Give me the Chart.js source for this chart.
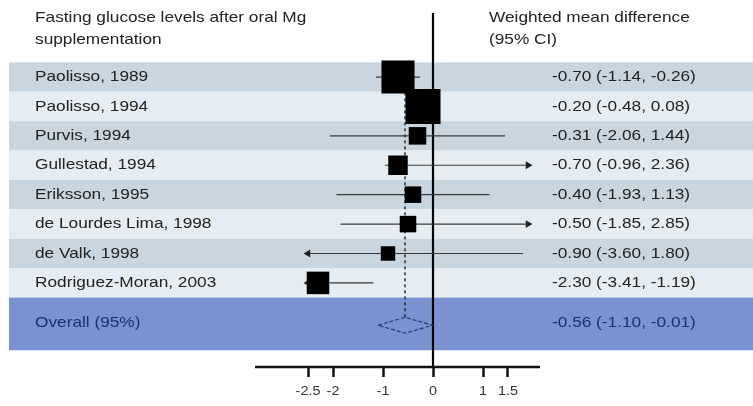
<!DOCTYPE html>
<html>
<head>
<meta charset="utf-8">
<script src="https://cdn.jsdelivr.net/npm/chart.js@4"></script>
<style>
  html, body { margin: 0; padding: 0; background: #ffffff; }
  #wrap { width: 753px; height: 406px; }
</style>
</head>
<body>
<div id="wrap"><canvas id="forest" width="753" height="406"></canvas></div>
<script>
// Meta-analysis: fasting glucose after oral magnesium supplementation
const studies = ['Paolisso, 1989', 'Paolisso, 1994', 'Purvis, 1994', 'Gullestad, 1994',
  'Eriksson, 1995', 'de Lourdes Lima, 1998', 'de Valk, 1998', 'Rodriguez-Moran, 2003'];
const wmd    = [-0.70, -0.20, -0.31, -0.70, -0.40, -0.50, -0.90, -2.30];
const ciLow  = [-1.14, -0.48, -2.06, -0.96, -1.93, -1.85, -3.60, -3.41];
const ciHigh = [-0.26,  0.08,  1.44,  2.36,  1.13,  2.85,  1.80, -1.19];
const weights = [25.6, 28.8, 7.2, 8.9, 6.4, 6.4, 4.9, 11.9];   // relative study weight, %
const overallLabel = 'Overall (95%)';
const overall = { wmd: -0.56, low: -1.10, high: -0.01 };
const tickValues = [-2.5, -2, -1, 0, 1, 1.5];
const displayRange = [-2.5, 1.9];   // intervals beyond this are cut and drawn with an arrow

const FONT = '"Liberation Sans", Arial, sans-serif';
const STRETCH = 1.15;               // wide lettering
const OVERALL_Y = 8.44;
const fmt = v => v.toFixed(2);
const ciText = i => `${fmt(wmd[i])} (${fmt(ciLow[i])}, ${fmt(ciHigh[i])})`;

// CI whiskers, one line per study, cut to the display range
const clip = v => Math.max(displayRange[0], Math.min(displayRange[1], v));
const whiskers = studies.map((s, i) => ({
  type: 'line',
  data: [{ x: clip(ciLow[i]), y: i }, { x: clip(ciHigh[i]), y: i }],
  borderColor: '#3a3a3a', borderWidth: 1.2, pointRadius: 0, showLine: true, order: 3
}));

// arrow heads where an interval runs off the display range
const arrowPts = [], arrowRot = [];
studies.forEach((s, i) => {
  if (ciLow[i] < displayRange[0]) { arrowPts.push({ x: displayRange[0], y: i }); arrowRot.push(-90); }
  if (ciHigh[i] > displayRange[1]) { arrowPts.push({ x: displayRange[1], y: i }); arrowRot.push(90); }
});

const boxRadius = weights.map(w => 65.3 * Math.sqrt(w / 100) / 2 / Math.SQRT1_2);
const diamondHalf = 0.27;

function wideText(ctx, text, x, y) {
  ctx.save();
  ctx.translate(x, y);
  ctx.scale(STRETCH, 1);
  ctx.fillText(text, 0, 0);
  ctx.restore();
}

const bandsPlugin = {
  id: 'bands',
  beforeDatasetsDraw(chart) {
    const { ctx, scales: { x, y }, chartArea } = chart;
    ctx.save();
    const left = 9, right = chart.width;
    studies.forEach((s, i) => {
      const top = y.getPixelForValue(i - 0.5), bot = y.getPixelForValue(i + 0.5);
      ctx.fillStyle = i % 2 === 0 ? '#c9d6df' : '#e5ecf2';
      ctx.fillRect(left, top, right - left, bot - top);
    });
    const oTop = y.getPixelForValue(studies.length - 0.5), oBot = y.getPixelForValue(9.29);
    ctx.fillStyle = '#7a93d0';
    ctx.fillRect(left, oTop, right - left, oBot - oTop);

    // pooled estimate, dashed
    const xp = x.getPixelForValue(overall.wmd);
    ctx.strokeStyle = '#222';
    ctx.lineWidth = 1.4;
    ctx.setLineDash([3, 3]);
    ctx.beginPath();
    ctx.moveTo(xp, y.getPixelForValue(-0.5));
    ctx.lineTo(xp, y.getPixelForValue(OVERALL_Y - diamondHalf));
    ctx.stroke();
    ctx.setLineDash([]);

    // line of no effect
    const x0 = x.getPixelForValue(0);
    ctx.strokeStyle = '#000';
    ctx.lineWidth = 2.2;
    ctx.beginPath();
    ctx.moveTo(x0, 13);
    ctx.lineTo(x0, chartArea.bottom);
    ctx.stroke();
    ctx.restore();
  },
  afterDraw(chart) {
    const { ctx, scales: { x, y }, chartArea } = chart;
    ctx.save();
    // axis line
    ctx.strokeStyle = '#111';
    ctx.lineWidth = 2.5;
    ctx.beginPath();
    ctx.moveTo(x.getPixelForValue(-3.56), chartArea.bottom);
    ctx.lineTo(x.getPixelForValue(2.14), chartArea.bottom);
    ctx.stroke();

    // tick labels
    ctx.font = '12.5px ' + FONT;
    ctx.textBaseline = 'middle';
    ctx.textAlign = 'center';
    ctx.fillStyle = '#333';
    tickValues.forEach(v => wideText(ctx, String(v), x.getPixelForValue(v), 392));

    ctx.font = '15px ' + FONT;
    ctx.textAlign = 'left';
    ctx.fillStyle = '#222';
    wideText(ctx, 'Fasting glucose levels after oral Mg', 35, 18);
    wideText(ctx, 'supplementation', 35, 40);
    wideText(ctx, 'Weighted mean difference', 489, 18);
    wideText(ctx, '(95% CI)', 489, 40);

    studies.forEach((s, i) => {
      const yp = y.getPixelForValue(i);
      wideText(ctx, s, 35, yp);
      wideText(ctx, ciText(i), 552, yp);
    });
    const yo = y.getPixelForValue(OVERALL_Y) - 2;
    ctx.fillStyle = '#1e2f6e';
    wideText(ctx, overallLabel, 35, yo);
    wideText(ctx, `${fmt(overall.wmd)} (${fmt(overall.low)}, ${fmt(overall.high)})`, 552, yo);
    ctx.restore();
  }
};

new Chart(document.getElementById('forest'), {
  type: 'scatter',
  data: {
    datasets: [
      ...whiskers,
      {
        type: 'scatter',
        data: arrowPts,
        pointStyle: 'triangle',
        pointRotation: arrowRot,
        pointRadius: 4.5,
        pointBorderWidth: 0,
        backgroundColor: '#222',
        order: 2
      },
      {
        type: 'scatter',
        data: wmd.map((v, i) => ({ x: v, y: i })),
        pointStyle: 'rect',
        pointRadius: boxRadius,
        pointBorderWidth: 0,
        backgroundColor: '#000',
        order: 1
      },
      {
        type: 'line',
        data: [
          { x: overall.low, y: OVERALL_Y },
          { x: overall.wmd, y: OVERALL_Y - diamondHalf },
          { x: overall.high, y: OVERALL_Y },
          { x: overall.wmd, y: OVERALL_Y + diamondHalf },
          { x: overall.low, y: OVERALL_Y }
        ],
        borderColor: '#223a7a',
        borderWidth: 1.2,
        borderDash: [4, 2],
        pointRadius: 0,
        fill: false,
        tension: 0,
        showLine: true,
        order: 0
      }
    ]
  },
  options: {
    responsive: false,
    animation: false,
    devicePixelRatio: 1,
    layout: { autoPadding: false, padding: { left: 0, right: 0, top: 0, bottom: 29 } },
    plugins: { legend: { display: false }, tooltip: { enabled: false } },
    scales: {
      x: {
        type: 'linear',
        min: -8.66,
        max: 6.4,
        afterBuildTicks: axis => { axis.ticks = tickValues.map(v => ({ value: v })); },
        ticks: { display: false },
        grid: {
          drawOnChartArea: false,
          drawTicks: true,
          tickLength: 10,
          tickWidth: 2.5,
          tickColor: '#111'
        },
        border: { display: false }
      },
      y: {
        type: 'linear',
        display: false,
        reverse: true,
        min: -2.62,
        max: 9.86
      }
    }
  },
  plugins: [bandsPlugin]
});
</script>
</body>
</html>
